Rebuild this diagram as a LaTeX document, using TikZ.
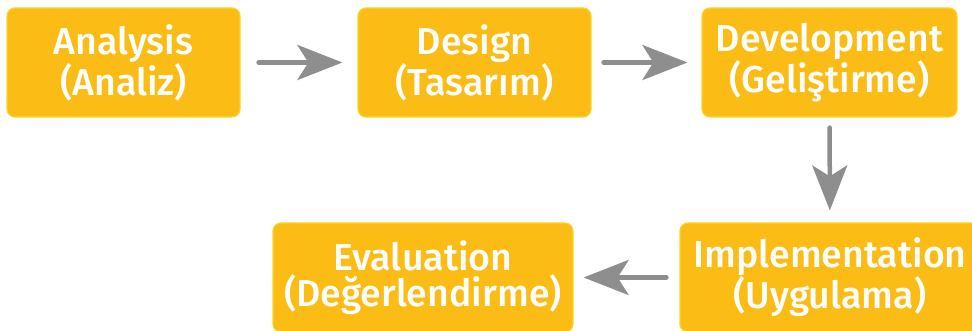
\documentclass[tikz,border=0pt]{standalone}
\usepackage{fontspec}
\setmainfont{Fira Sans Medium}
\usetikzlibrary{arrows.meta}
\definecolor{boxfill}{HTML}{FBBC16}
\definecolor{boxedge}{HTML}{F9D52A}
\definecolor{arrowgray}{HTML}{8E8E8E}
\newcommand{\stagefont}{\fontsize{37.5pt}{36pt}\selectfont}
\tikzset{
  stage/.style={draw=boxedge, line width=1.2pt, fill=boxfill, rounded corners=8pt,
    text=white, align=center, font=\stagefont, inner sep=0pt,
    minimum height=109pt},
  flow/.style={draw=arrowgray, line width=4.5pt, line cap=round,
    -{Stealth[length=45pt,width=35pt,inset=11pt]}}
}
\begin{document}
\begin{tikzpicture}[x=1pt,y=-1pt]
\useasboundingbox (0,0) rectangle (972,331);
\clip (0,0) rectangle (972,331);
\node[stage, minimum width=233pt] (ana) at (123.5,62.5) {Analysis\\(Analiz)};
\node[stage, minimum width=233pt] (des) at (474.5,62.5) {Design\\(Tasarım)};
\node[stage, minimum width=255pt] (dev) at (829.5,62.5) {Development\\(Geliştirme)};
\node[stage, minimum width=300pt] (imp) at (830,277.5) {Implementation\\(Uygulama)};
\node[stage, minimum width=300pt] (eva) at (423,277.5) {Evaluation\\(Değerlendirme)};
\draw[flow, shorten <=18pt, shorten >=15pt] (ana) -- (des);
\draw[flow, shorten <=12pt, shorten >=14pt] (des) -- (dev);
\draw[flow, shorten <=10pt, shorten >=12pt] (dev) -- (imp);
\draw[flow, shorten <=13pt, shorten >=10pt] (imp) -- (eva);
\end{tikzpicture}
\end{document}
